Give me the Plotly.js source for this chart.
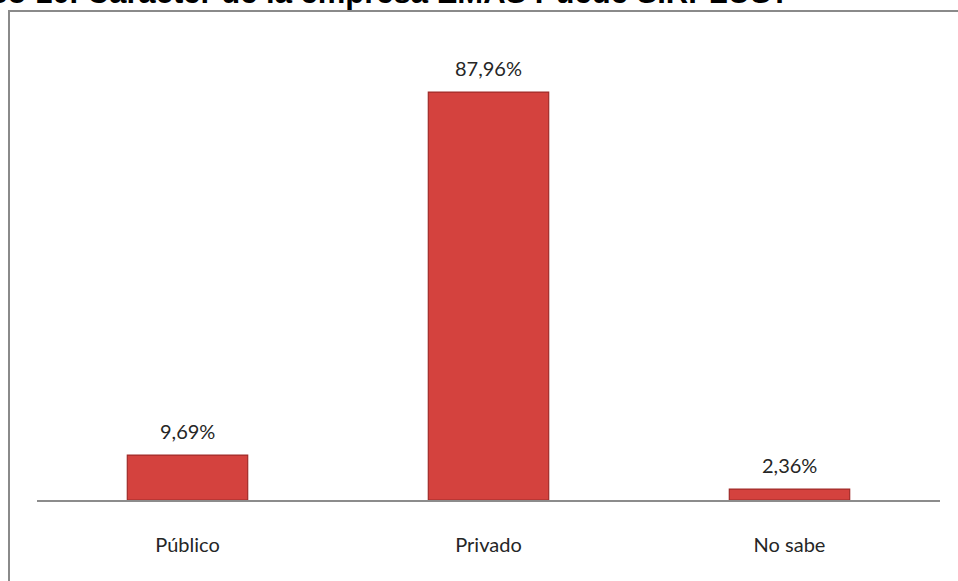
<!DOCTYPE html>
<html>
<head>
<meta charset="utf-8">
<script src="https://cdn.plot.ly/plotly-3.0.1.min.js"></script>
<style>html,body{margin:0;padding:0;background:#fff;} #chart{width:958px;height:581px;}</style>
</head>
<body>
<div id="chart"></div>
<script>
const chartTitle = "Gráfico 10. Carácter de la empresa EMAS Puede SIRPLUS?";
const categories = ["Público", "Privado", "No sabe"];
const values = [9.69, 87.96, 2.36];
const valueLabels = ["9,69%", "87,96%", "2,36%"];

const trace = {
  type: "bar",
  x: categories,
  y: values,
  marker: { color: "#d4423e", line: { color: "#a02b28", width: 1.2 } },
  hoverinfo: "x+y"
};

const labelAnnotations = categories.map((c, i) => ({
  x: c, y: values[i], xref: "x", yref: "y",
  text: valueLabels[i], showarrow: false,
  yanchor: "bottom", yshift: 10,
  font: { family: "Lato, 'Open Sans', sans-serif", size: 20, color: "#262626" }
}));

const layout = {
  width: 958, height: 581,
  margin: { l: 37, r: 18, t: 40, b: 81 },
  paper_bgcolor: "#ffffff", plot_bgcolor: "#ffffff",
  showlegend: false,
  bargap: 0.6,
  xaxis: {
    type: "category",
    showline: true, linecolor: "#8c8c8c", linewidth: 1.5,
    showgrid: false, zeroline: false, ticks: "",
    ticklabelstandoff: 26,
    tickfont: { family: "Lato, 'Open Sans', sans-serif", size: 20, color: "#262626" }
  },
  yaxis: {
    range: [0, 99.2], visible: false, showgrid: false, zeroline: false, fixedrange: true
  },
  shapes: [{
    type: "rect", xref: "paper", yref: "paper",
    x0: -0.031, x1: 1.2, y0: -0.5, y1: 1.063,
    line: { color: "#8a8a8a", width: 2 }, fillcolor: "rgba(0,0,0,0)", layer: "below"
  }],
  annotations: labelAnnotations.concat([{
    xref: "paper", yref: "paper", x: 0.836, y: 1.0609,
    xanchor: "right", yanchor: "bottom", showarrow: false,
    text: "<b>" + chartTitle + "</b>",
    font: { family: "'Liberation Sans', Arial, sans-serif", size: 31, color: "#000" }
  }])
};

Plotly.newPlot("chart", [trace], layout, { displayModeBar: false, staticPlot: true });
</script>
</body>
</html>
